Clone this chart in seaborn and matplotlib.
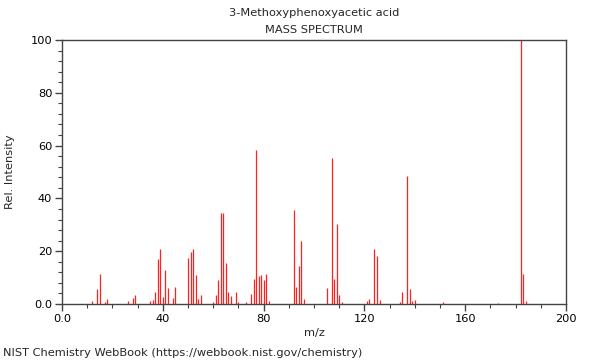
import matplotlib
matplotlib.use("Agg")
import matplotlib.pyplot as plt
import seaborn as sns
import pandas as pd
from matplotlib.ticker import MultipleLocator, FixedLocator, FixedFormatter

title = "3-Methoxyphenoxyacetic acid"
subtitle = "MASS SPECTRUM"
footer = "NIST Chemistry WebBook (https://webbook.nist.gov/chemistry)"

mz = [12, 14, 15, 17, 18, 26, 28, 29, 35, 36, 37, 38, 39, 40, 41, 42, 44, 45,
      50, 51, 52, 53, 54, 55, 60, 61, 62, 63, 64, 65, 66, 67, 69, 70, 73, 75,
      76, 77, 78, 79, 80, 81, 82, 92, 93, 94, 95, 96, 105, 107, 108, 109, 110,
      111, 121, 122, 124, 125, 126, 134, 135, 137, 138, 139, 140, 151, 173,
      182, 183, 184]
intensity = [1.1, 5.5, 11.3, 0.9, 2.0, 1.3, 2.1, 3.5, 1.0, 1.5, 4.6, 16.9, 21.0,
             2.5, 12.8, 6.2, 2.3, 6.4, 17.3, 19.6, 20.7, 11.0, 1.9, 3.4, 0.6,
             3.3, 9.1, 34.5, 34.3, 15.7, 4.7, 2.9, 4.4, 0.8, 0.9, 3.7, 9.3,
             58.2, 10.7, 11.1, 9.2, 11.4, 1.0, 35.5, 6.4, 14.3, 24.0, 2.0, 6.1,
             55.3, 9.6, 30.4, 3.3, 0.9, 1.0, 2.0, 20.7, 18.2, 1.5, 0.8, 4.4,
             48.5, 5.7, 1.1, 1.4, 0.7, 0.5, 100.0, 11.2, 1.1]

x_ticks = [0, 40, 80, 120, 160, 200]
x_tick_labels = ["0.0", "40", "80", "120", "160", "200"]
y_ticks = [0, 20, 40, 60, 80, 100]
y_tick_labels = ["0.0", "20", "40", "60", "80", "100"]

df = pd.DataFrame({"mz": mz, "intensity": intensity})

sns.set_theme(style="ticks")
plt.rcParams["font.family"] = ["DejaVu Sans"]

fs = 8.2
fig = plt.figure(figsize=(6, 3.6), dpi=100)
ax = fig.add_axes([62 / 600, 1 - 304 / 360, (566 - 62) / 600, (304 - 40) / 360])

ax.vlines(df["mz"], 0, df["intensity"], color="#ff2020", linewidth=0.9)

ax.set_xlim(0, 200)
ax.set_ylim(0, 100)
ax.xaxis.set_major_locator(FixedLocator(x_ticks))
ax.xaxis.set_major_formatter(FixedFormatter(x_tick_labels))
ax.yaxis.set_major_locator(FixedLocator(y_ticks))
ax.yaxis.set_major_formatter(FixedFormatter(y_tick_labels))
ax.xaxis.set_minor_locator(MultipleLocator(10))
ax.yaxis.set_minor_locator(MultipleLocator(4))

edge = "#444444"
for s in ax.spines.values():
    s.set_color(edge)
    s.set_linewidth(1.0)
    s.set_visible(True)
ax.tick_params(which="major", direction="out", length=5, width=1, color=edge,
               labelsize=fs, labelcolor="black", pad=2)
ax.tick_params(which="minor", direction="out", length=3, width=0.8, color=edge)
ax.tick_params(top=False, right=False, which="both")

ax.set_xlabel("m/z", fontsize=fs, labelpad=3)
ax.set_ylabel("Rel. Intensity", fontsize=fs, labelpad=11)

fig.text(314 / 600, 1 - 13 / 360, title, ha="center", va="center", fontsize=fs)
fig.text(314 / 600, 1 - 30 / 360, subtitle, ha="center", va="center", fontsize=fs)
fig.text(3 / 600, 1 - 353 / 360, footer, ha="left", va="center", fontsize=fs)

fig.savefig("out.png", dpi=100)
